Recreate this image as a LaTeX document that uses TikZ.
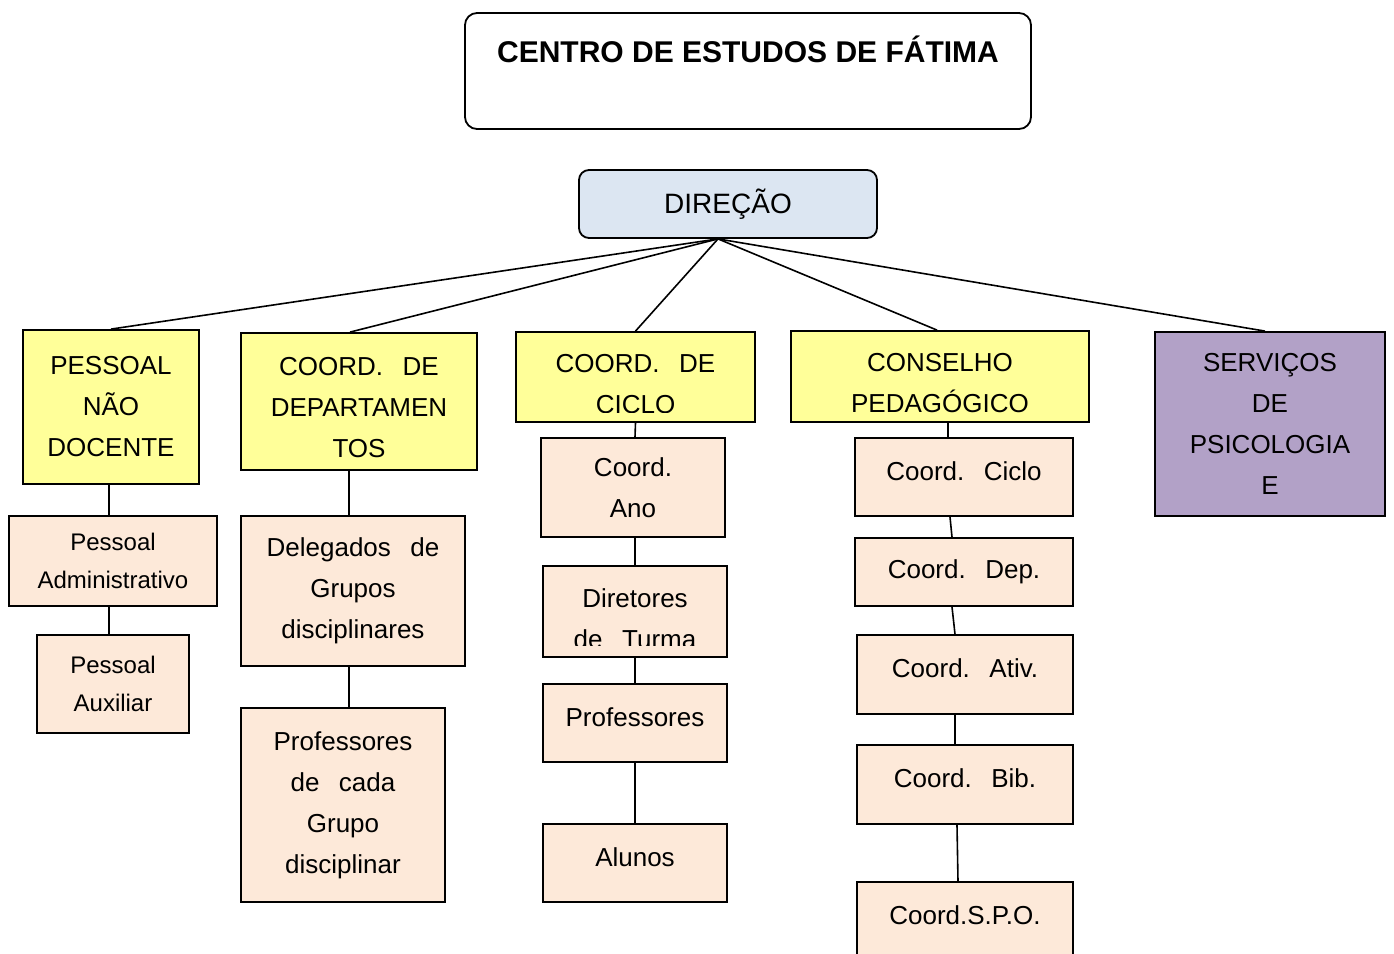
\documentclass[tikz,border=0pt]{standalone}
\usepackage{fontspec}
\setmainfont{Liberation Sans}
\definecolor{direcblue}{HTML}{DCE6F2}
\definecolor{topyellow}{HTML}{FFFF99}
\definecolor{lowpeach}{HTML}{FDE9D9}
\definecolor{psililac}{HTML}{B2A1C7}
\newcommand{\wsp}{\hspace{0.75em}}
\tikzstyle{box}=[draw, line width=0.9pt, inner sep=2pt, align=center]
\tikzstyle{topbox}=[box, fill=topyellow, font=\fontsize{13}{20.5}\selectfont]
\tikzstyle{lowbox}=[box, fill=lowpeach, font=\fontsize{13}{20.5}\selectfont]
\tikzstyle{smallbox}=[lowbox, font=\fontsize{12}{19}\selectfont]
\tikzstyle{raised}=[text height=9pt, text depth=6pt]
\tikzstyle{cliptext}=[draw=none, fill=none, inner sep=0pt, align=center, font=\fontsize{13}{20.5}\selectfont]
\tikzstyle{link}=[line width=0.8pt]

\begin{document}
\begin{tikzpicture}[x=0.5pt, y=-0.5pt]
    \useasboundingbox (0,0) rectangle (1394,954);
    \clip (0,0) rectangle (1394,954);
    % cabecalho
    \node[box, rounded corners=6pt, minimum width=283pt, inner sep=0pt, text height=24.5pt, text depth=33.5pt,
          font=\fontsize{15}{18}\selectfont\bfseries] (centro) at (748,71) {CENTRO DE ESTUDOS DE FÁTIMA};
    \node[box, rounded corners=5pt, fill=direcblue, minimum width=149pt, minimum height=34pt,
          font=\fontsize{14}{17}\selectfont] (direc) at (728,204) {DIREÇÃO};
    % primeiro nivel
    \node[topbox, minimum width=88pt, minimum height=77pt]     (pnd)  at (111,407)   {PESSOAL\\NÃO\\DOCENTE};
    \node[topbox, minimum width=118pt, minimum height=68.5pt, path picture={
            \node[cliptext] at ([yshift=-3pt]path picture bounding box.center) {COORD.\wsp DE\\DEPARTAMEN\\TOS};
          }] (cdep) at (359,401.5) {};
    \node[topbox, minimum width=119.5pt, minimum height=45pt, path picture={
            \clip (path picture bounding box.north west) rectangle ([yshift=5pt]path picture bounding box.south east);
            \node[cliptext] at ([yshift=-3.5pt]path picture bounding box.center) {COORD.\wsp DE\\CICLO};
          }] (cciclo) at (635.5,377) {};
    \node[topbox, minimum width=149pt, minimum height=45.5pt, path picture={
            \clip (path picture bounding box.north west) rectangle ([yshift=5pt]path picture bounding box.south east);
            \node[cliptext] at ([yshift=-3.5pt]path picture bounding box.center) {CONSELHO\\PEDAGÓGICO};
          }] (cped) at (940,376.5) {};
    \node[topbox, fill=psililac, minimum width=115pt, minimum height=92pt] (spsi) at (1270,424) {SERVIÇOS\\DE\\PSICOLOGIA\\E};
    % pessoal nao docente
    \node[smallbox, minimum width=104pt, minimum height=45pt] (padm) at (113,561) {Pessoal\\Administrativo};
    \node[smallbox, minimum width=76pt, minimum height=49pt]  (paux) at (113,684) {Pessoal\\Auxiliar};
    % departamentos
    \node[lowbox, minimum width=112pt, minimum height=75pt]  (deleg) at (353,591) {Delegados\wsp de\\Grupos\\disciplinares};
    \node[lowbox, minimum width=102pt, minimum height=97pt]  (profg) at (343,805) {Professores\\de\wsp cada\\Grupo\\disciplinar};
    % ciclo
    \node[lowbox, minimum width=92pt, minimum height=49.5pt] (cano) at (633,487.5) {Coord.\\Ano};
    \node[lowbox, minimum width=92pt, minimum height=45.5pt, path picture={
            \clip (path picture bounding box.north west) rectangle ([yshift=6pt]path picture bounding box.south east);
            \node[cliptext] at ([yshift=-3.5pt]path picture bounding box.center) {Diretores\\de\wsp Turma};
          }] (dturma) at (635,611.5) {};
    \node[lowbox, raised, minimum width=92pt, minimum height=39pt] (prof)   at (635,723) {Professores};
    \node[lowbox, raised, minimum width=92pt, minimum height=39pt] (alunos) at (635,863) {Alunos};
    % conselho pedagogico
    \node[lowbox, raised, minimum width=109pt, minimum height=39pt]   (ccic)  at (964,477)   {Coord.\wsp Ciclo};
    \node[lowbox, minimum width=109pt, minimum height=34pt]           (cdp)   at (964,572)   {Coord.\wsp Dep.};
    \node[lowbox, raised, minimum width=108pt, minimum height=39.5pt] (cativ) at (965,674.5) {Coord.\wsp Ativ.};
    \node[lowbox, raised, minimum width=108pt, minimum height=39.5pt] (cbib)  at (965,784.5) {Coord.\wsp Bib.};
    \node[lowbox, raised, minimum width=108pt, minimum height=39.5pt] (cspo)  at (965,921.5) {Coord.S.P.O.};
    % ligacoes
    \draw[link] ([xshift=-5pt]direc.south) -- (pnd.north);
    \draw[link] ([xshift=-5pt]direc.south) -- ([xshift=-4.5pt]cdep.north);
    \draw[link] ([xshift=-5pt]direc.south) -- (cciclo.north);
    \draw[link] ([xshift=-5pt]direc.south) -- ([xshift=-1.5pt]cped.north);
    \draw[link] ([xshift=-5pt]direc.south) -- ([xshift=-2.5pt]spsi.north);
    \draw[link] ([xshift=-1pt]pnd.south) -- ([xshift=-2pt]padm.north);
    \draw[link] ([xshift=-2pt]padm.south) -- ([xshift=-2pt]paux.north);
    \draw[link] ([xshift=-5pt]cdep.south) -- ([xshift=-2pt]deleg.north);
    \draw[link] ([xshift=-2pt]deleg.south) -- ([xshift=3pt]profg.north);
    \draw[link] (cciclo.south) -- ([xshift=1pt]cano.north);
    \draw[link] ([xshift=1pt]cano.south) -- (dturma.north);
    \draw[link] (dturma.south) -- (prof.north);
    \draw[link] (prof.south) -- (alunos.north);
    \draw[link] ([xshift=4pt]cped.south) -- ([xshift=-8pt]ccic.north);
    \draw[link] ([xshift=-7pt]ccic.south) -- ([xshift=-6pt]cdp.north);
    \draw[link] ([xshift=-6pt]cdp.south) -- ([xshift=-5pt]cativ.north);
    \draw[link] ([xshift=-5pt]cativ.south) -- ([xshift=-5pt]cbib.north);
    \draw[link] ([xshift=-4pt]cbib.south) -- ([xshift=-3.5pt]cspo.north);
\end{tikzpicture}
\end{document}
